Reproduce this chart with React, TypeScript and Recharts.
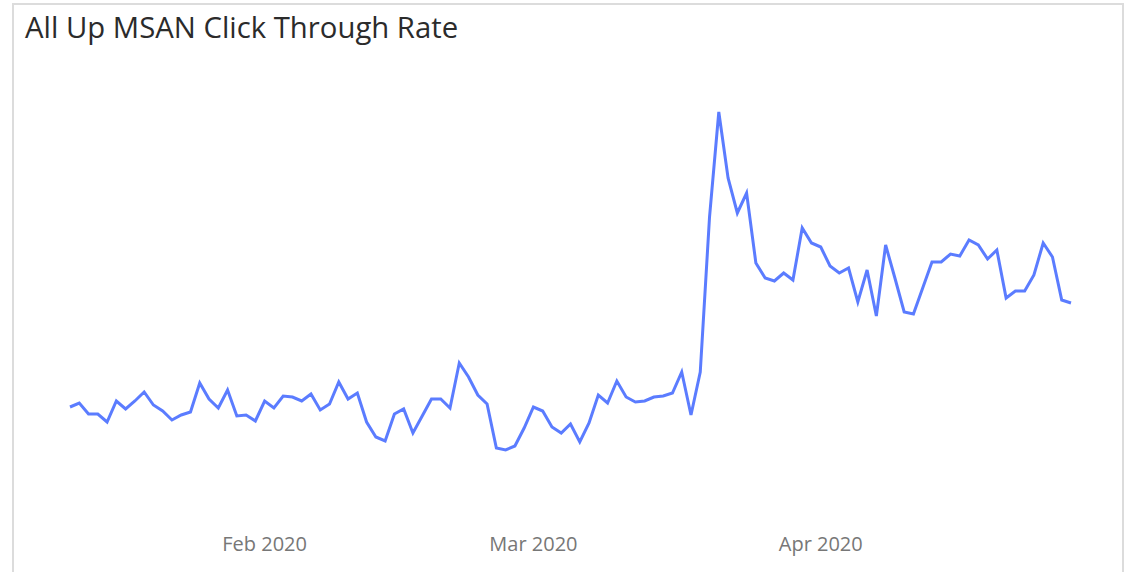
import { LineChart, Line, XAxis, YAxis } from 'recharts'

// daily CTR (%), Jan 11 – Apr 28 2020
const startDate = '2020-01-11'
const ctr = [
  1.13, 1.17, 1.06, 1.06, 0.98, 1.19, 1.11, 1.19, 1.28, 1.15,
  1.09, 1.0, 1.05, 1.08, 1.37, 1.21, 1.12, 1.3, 1.04, 1.05,
  0.99, 1.19, 1.12, 1.24, 1.23, 1.19, 1.26, 1.1, 1.16, 1.38,
  1.21, 1.27, 0.98, 0.83, 0.79, 1.06, 1.11, 0.87, 1.04, 1.21,
  1.21, 1.12, 1.57, 1.43, 1.25, 1.16, 0.72, 0.7, 0.74, 0.92,
  1.13, 1.09, 0.93, 0.87, 0.96, 0.78, 0.97, 1.25, 1.17, 1.39,
  1.23, 1.18, 1.19, 1.23, 1.24, 1.27, 1.48, 1.05, 1.48, 3.03,
  4.08, 3.42, 3.07, 3.27, 2.57, 2.42, 2.39, 2.47, 2.4, 2.92,
  2.77, 2.73, 2.54, 2.47, 2.52, 2.18, 2.5, 2.04, 2.75, 2.42,
  2.08, 2.06, 2.32, 2.58, 2.58, 2.66, 2.64, 2.8, 2.75, 2.61,
  2.7, 2.22, 2.29, 2.29, 2.45, 2.77, 2.63, 2.2, 2.17,
]
const tickDates = ['2020-02-01', '2020-03-01', '2020-04-01']
const monthNames = ['Jan', 'Feb', 'Mar', 'Apr', 'May', 'Jun', 'Jul', 'Aug', 'Sep', 'Oct', 'Nov', 'Dec']

const t0 = Date.parse(startDate + 'T00:00:00Z')
const data = ctr.map((v, i) => ({
  date: new Date(t0 + i * 86400000).toISOString().slice(0, 10),
  ctr: v,
}))

const fmtMonth = (d: string) => `${monthNames[Number(d.slice(5, 7)) - 1]} ${d.slice(0, 4)}`

export default function App() {
  return (
    <div style={{ position: 'absolute', left: 0, top: 0, width: 1128, height: 572, background: '#fff', overflow: 'hidden', fontFamily: '"Open Sans", sans-serif' }}>
      <div style={{ position: 'absolute', left: 12, top: 3, width: 1112, height: 600, border: '2px solid #dcdcdc', boxSizing: 'border-box' }} />
      <div style={{ position: 'absolute', left: 25, top: 7, fontSize: 29.3, color: '#2b2b2b', whiteSpace: 'nowrap' }}>
        All Up MSAN Click Through Rate
      </div>
      <div style={{ position: 'absolute', left: 0, top: 0 }}>
        <LineChart width={1128} height={572} data={data} margin={{ top: 20, right: 57, left: 70, bottom: 22 }}>
          <XAxis
            dataKey="date"
            ticks={tickDates}
            interval={0}
            tickFormatter={fmtMonth}
            axisLine={false}
            tickLine={false}
            tickMargin={11}
            tick={{ fontSize: 20, fill: '#777' }}
          />
          <YAxis hide domain={[0, 5]} />
          <Line type="linear" dataKey="ctr" stroke="#5b7cff" strokeWidth={3} dot={false} isAnimationActive={false} />
        </LineChart>
      </div>
    </div>
  )
}
